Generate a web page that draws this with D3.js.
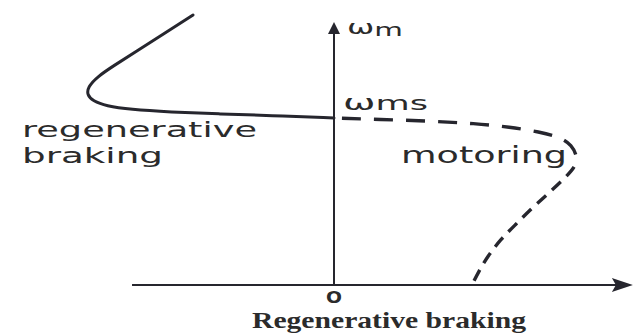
<!DOCTYPE html>
<html>
<head>
<meta charset="utf-8">
<script src="https://cdn.jsdelivr.net/npm/d3@7"></script>
<style>
  html, body { margin: 0; padding: 0; background: #ffffff; }
  svg { display: block; }
</style>
</head>
<body>
<svg id="chart" width="635" height="336"></svg>
<script>
// Speed–torque characteristic of an induction machine.
// Torque is normalised to the motoring breakdown torque, speed to synchronous speed.

// Regenerative braking branch (solid): torque and speed
const regenTorque = [-0.573, -0.687, -0.801, -0.898, -0.963, -1.000, -1.004, -0.980, -0.927, -0.829, -0.667, -0.463, -0.260, 0.0];
const regenSpeed  = [ 1.617,  1.509,  1.401,  1.311,  1.246,  1.186,  1.138,  1.102,  1.072,  1.051,  1.036,  1.024,  1.015, 1.0];

// Motoring branch (dashed): from synchronous speed through breakdown torque to standstill
const motorTorque = [0.0, 0.187, 0.390, 0.573, 0.715, 0.837, 0.919, 0.967, 0.988, 0.984, 0.943, 0.878, 0.805, 0.736, 0.675, 0.626, 0.589, 0.561];
const motorSpeed  = [1.0, 0.991, 0.982, 0.967, 0.946, 0.916, 0.886, 0.838, 0.772, 0.713, 0.647, 0.557, 0.461, 0.359, 0.269, 0.174, 0.084, 0.0];
// index of the breakdown (maximum torque) point on the motoring branch
const breakdownIndex = 8;

// Axis extents
const torqueAxisMin = -0.821;
const torqueAxisMax = 1.215;
const speedAxisMax = 1.575;
const syncSpeed = 1.0;

const svg = d3.select("#chart");
const x = d3.scaleLinear().domain([-1, 1]).range([88, 580]);
const y = d3.scaleLinear().domain([0, 1]).range([285, 118]);

const ink = "#26262e";
const textInk = "#2b2b2b";

const zip = (a, b) => a.map((v, i) => [v, b[i]]);
const line = d3.line().x(d => x(d[0])).y(d => y(d[1])).curve(d3.curveBasis);

// Axes
const x0 = x(0), y0 = y(0);
svg.append("line")
  .attr("x1", x(torqueAxisMin)).attr("y1", y0)
  .attr("x2", x(torqueAxisMax) - 14).attr("y2", y0)
  .attr("stroke", ink).attr("stroke-width", 2);
svg.append("path")
  .attr("d", `M${x(torqueAxisMax)},${y0} L${x(torqueAxisMax) - 21},${y0 - 7} L${x(torqueAxisMax) - 17},${y0} L${x(torqueAxisMax) - 21},${y0 + 7} Z`)
  .attr("fill", ink);

svg.append("line")
  .attr("x1", x0).attr("y1", y0 + 1)
  .attr("x2", x0).attr("y2", y(speedAxisMax) + 8)
  .attr("stroke", ink).attr("stroke-width", 2);
svg.append("path")
  .attr("d", `M${x0},${y(speedAxisMax)} L${x0 - 6},${y(speedAxisMax) + 12} L${x0 + 6},${y(speedAxisMax) + 12} Z`)
  .attr("fill", ink);

// Regenerative branch
svg.append("path")
  .attr("d", line(zip(regenTorque, regenSpeed)))
  .attr("fill", "none").attr("stroke", ink).attr("stroke-width", 3)
  .attr("stroke-linecap", "round");

// Motoring branch: long dashes near synchronous speed, shorter ones below breakdown
const motorPts = zip(motorTorque, motorSpeed);
const motorPath = svg.append("path")
  .attr("d", line(motorPts))
  .attr("fill", "none").attr("stroke", ink).attr("stroke-width", 3.4);
const probe = svg.append("path").attr("d", line(motorPts.slice(0, breakdownIndex + 1))).attr("fill", "none");
const upperLen = probe.node().getTotalLength();
probe.remove();
const totalLen = motorPath.node().getTotalLength();
const dashes = [];
let run = 8;
dashes.push(0, run); // small gap right at the axis
while (run < upperLen) { dashes.push(19, 13); run += 32; }
while (run < totalLen + 20) { dashes.push(12, 8); run += 20; }
motorPath.attr("stroke-dasharray", dashes.join(" "));

// Labels
const label = (txt, px, py, size, len, family, weight) => svg.append("text")
  .attr("x", px).attr("y", py)
  .attr("font-family", family || "'DejaVu Sans', sans-serif")
  .attr("font-size", size)
  .attr("font-weight", weight || "normal")
  .attr("fill", textInk)
  .attr("textLength", len).attr("lengthAdjust", "spacingAndGlyphs")
  .text(txt);

const wm = svg.append("text")
  .attr("x", x0 + 13).attr("y", y(speedAxisMax) + 12)
  .attr("font-family", "'DejaVu Sans', sans-serif")
  .attr("fill", textInk)
  .attr("textLength", 56).attr("lengthAdjust", "spacingAndGlyphs");
wm.append("tspan").attr("font-size", 20).text("ω");
wm.append("tspan").attr("font-size", 18).attr("dy", 2).text("m");

const wms = svg.append("text")
  .attr("x", x0 + 9).attr("y", y(syncSpeed) - 8)
  .attr("font-family", "'DejaVu Sans', sans-serif")
  .attr("fill", textInk)
  .attr("textLength", 85).attr("lengthAdjust", "spacingAndGlyphs");
wms.append("tspan").attr("font-size", 21).text("ω");
wms.append("tspan").attr("font-size", 19).text("ms");

label("regenerative", 22, 137, 22, 235);
label("braking", 22, 163, 22, 141);
label("motoring", 401, 163, 23, 166);

label("O", x0 - 8, y0 + 18, 15, 16, null, "bold");
label("Regenerative braking", 252, 328, 24, 274, "'Liberation Serif', serif", "bold");
</script>
</body>
</html>
